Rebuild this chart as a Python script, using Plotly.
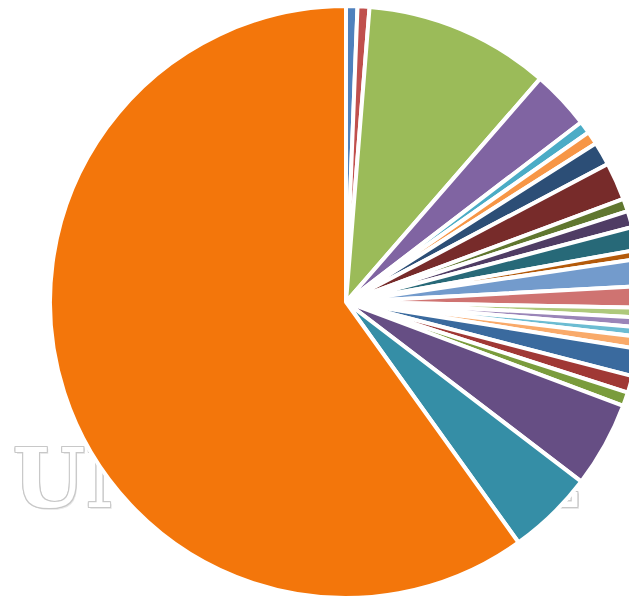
import plotly.graph_objects as go

# ---- data (slice shares in %, clockwise from 12 o'clock) ----
labels = [
    "Blue", "Red", "Green", "Purple", "Aqua", "Orange",
    "Dark blue", "Dark red", "Dark green", "Dark purple", "Dark aqua", "Dark orange",
    "Light blue", "Light red", "Light green", "Light purple", "Light aqua", "Light orange",
    "Mid blue", "Mid red", "Mid green", "Mid purple", "Mid aqua", "Main",
]
values = [
    0.62, 0.65, 10.12, 3.22, 0.67, 0.72,
    1.28, 2.06, 0.69, 0.89, 1.25, 0.50,
    1.47, 1.17, 0.53, 0.53, 0.51, 0.65,
    1.50, 0.92, 0.75, 4.67, 4.72, 59.90,
]
colors = [
    "#4F81BD", "#C0504D", "#9BBB59", "#8064A2", "#4BACC6", "#F79646",
    "#2C4E76", "#772B2A", "#60772F", "#4F3C64", "#276978", "#B45A0A",
    "#739BCC", "#CF7371", "#AEC97B", "#9A85B8", "#6CBCD2", "#F9AA6A",
    "#3A6A9E", "#A03835", "#7A9C3C", "#664E84", "#358EA6", "#F3760B",
]
WATERMARK = "UNIVERSAL"

W, H = 650, 598
ML, MR, MT, MB = 50, 8, 6, 0
WM_X, WM_Y, WM_SIZE = 296, 486, 83

fig = go.Figure()

# watermark behind the pie (cartesian layer is drawn below the pie layer):
# gray copies at small offsets form an outline, a white copy on top fills it
wm_font = dict(family="DejaVu Serif", size=WM_SIZE, weight="bold")
outline = [(1.5, 2.5, "#e8e8e8")] + [
    (dx, dy, "#c8c8c8") for dx, dy in
    [(-1, 0), (1, 0), (0, -1), (0, 1), (-1, -1), (1, 1), (-1, 1), (1, -1)]
] + [(0, 0, "#ffffff")]
for dx, dy, col in outline:
    fig.add_trace(go.Scatter(
        x=[WM_X + dx], y=[WM_Y + dy], mode="text", text=[WATERMARK],
        textposition="middle center", cliponaxis=False, hoverinfo="skip",
        textfont=dict(color=col, **wm_font), showlegend=False,
    ))

fig.add_trace(go.Pie(
    labels=labels, values=values, sort=False, direction="clockwise", rotation=0,
    marker=dict(colors=colors, line=dict(color="#ffffff", width=4)),
    textinfo="none", hoverinfo="label+percent", showlegend=False,
))

fig.update_xaxes(visible=False, range=[ML, W - MR], fixedrange=True)
fig.update_yaxes(visible=False, range=[H - MB, MT], fixedrange=True)

fig.update_layout(
    width=W, height=H, autosize=False,
    margin=dict(l=ML, r=MR, t=MT, b=MB, pad=0),
    paper_bgcolor="#ffffff", plot_bgcolor="#ffffff",
    showlegend=False,
)

fig.write_html(
    "out.html",
    config={"displayModeBar": False},
    post_script="document.body.style.margin='0';document.body.style.overflow='hidden';",
)
